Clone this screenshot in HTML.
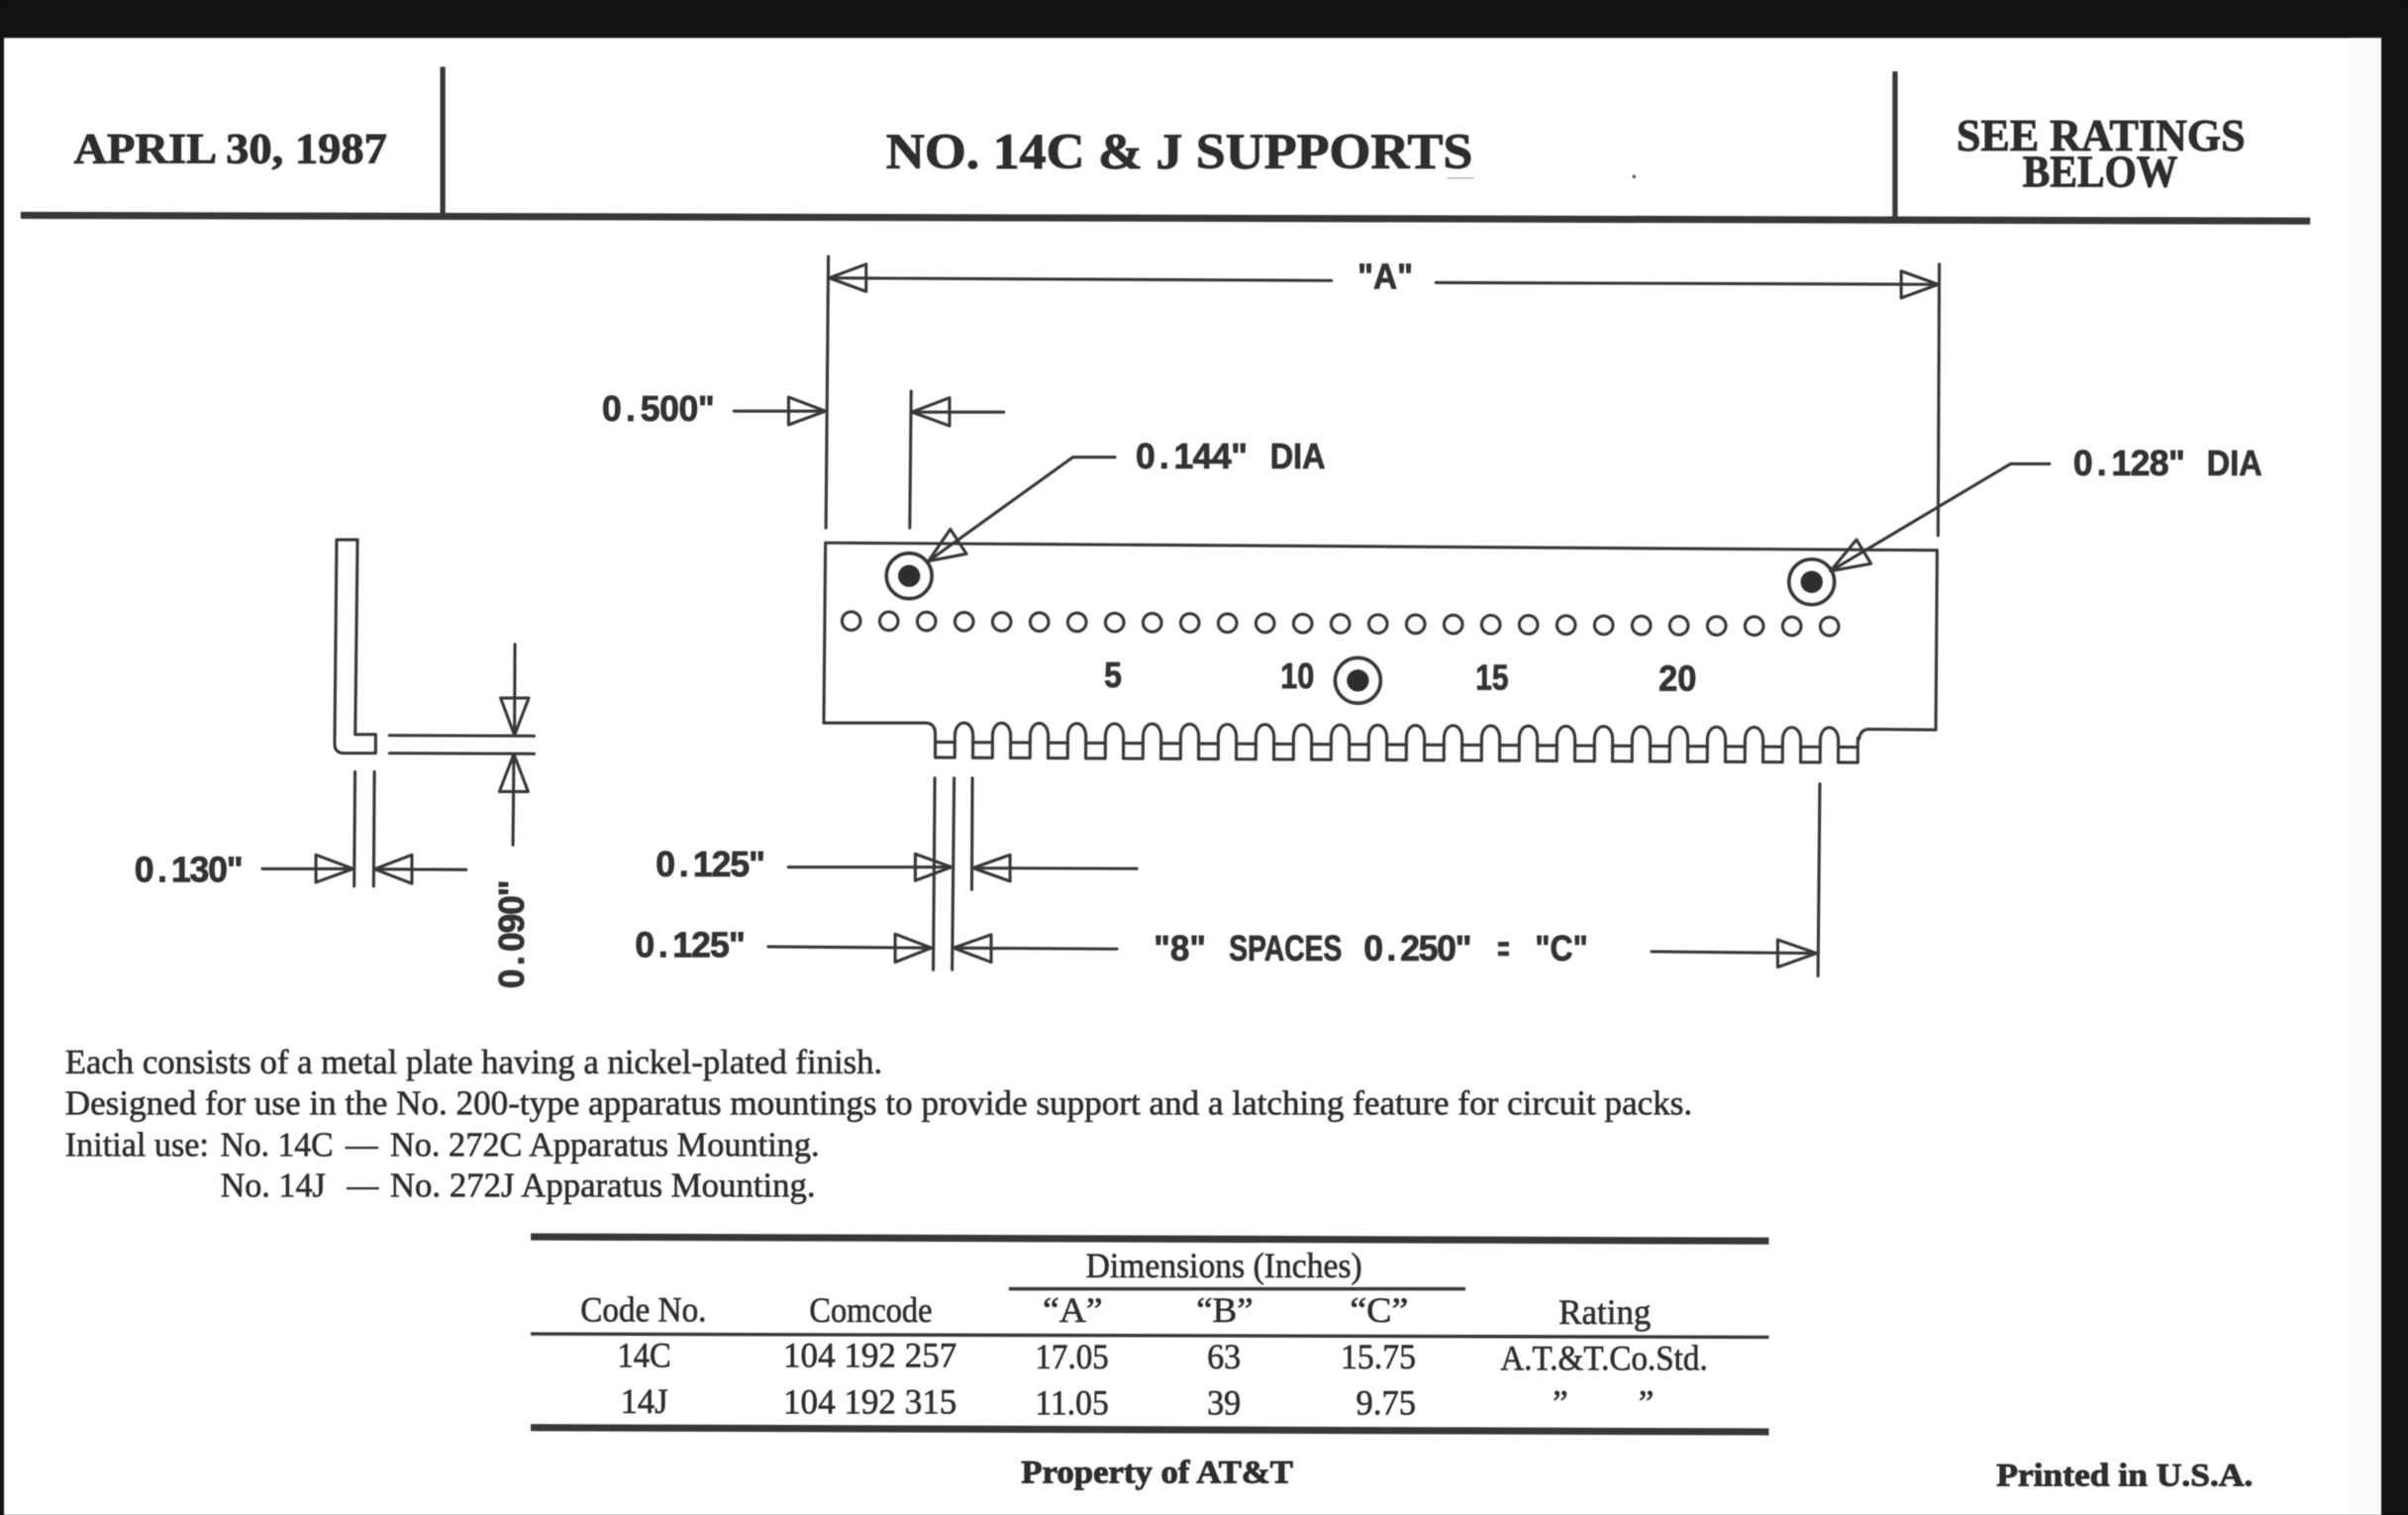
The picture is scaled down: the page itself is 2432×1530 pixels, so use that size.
<!DOCTYPE html>
<html lang="en"><head><meta charset="utf-8"><title>No. 14C &amp; J Supports</title>
<style>
html,body{margin:0;padding:0;background:#111;width:2432px;height:1530px;overflow:hidden}
svg{display:block;filter:blur(.6px)}
.s{font-family:"Liberation Serif",serif;fill:#2e2e2e}
.b{font-weight:bold;stroke:#2e2e2e;stroke-width:.6}
.p{font-size:22.5px;stroke:#2e2e2e;stroke-width:.4}
.t{font-size:23px;stroke:#2e2e2e;stroke-width:.4}
.m{font-family:"Liberation Sans",sans-serif;font-weight:bold;font-size:23px;fill:#333;stroke:#333;stroke-width:.5}
.l{fill:none;stroke:#383838;stroke-width:2;stroke-linecap:round;stroke-linejoin:round}
.k{fill:none;stroke:#383838;stroke-linecap:butt}
</style></head>
<body>
<svg xmlns="http://www.w3.org/2000/svg" width="2432" height="1530" viewBox="0 0 1568 986.45">
<defs>
<g id="tooth">
<path class="l" d="M0,0H12.7V-14C12.7,-25.5 24.5,-25.5 24.5,-14V0"/>
<path class="l" d="M0,-10H12.7"/>
</g>
<circle id="hole" r="6" class="l"/>
</defs>
<rect width="1568" height="987" fill="#121212"/>
<rect x="2.6" y="24.7" width="1548" height="963" fill="#fff"/>
<rect x="1530" y="24.7" width="20.6" height="963" fill="#fcfcfc"/>

<!-- header -->
<path class="k" stroke-width="4.6" d="M13.5,140.2L1504.3,143.9"/>
<path class="k" stroke-width="3.4" d="M288.3,43.5V140M1234,46.5V142"/>
<text class="s b" x="48" y="106" font-size="28" textLength="204" lengthAdjust="spacingAndGlyphs">APRIL 30, 1987</text>
<text class="s b" x="577" y="109.5" font-size="33" textLength="382" lengthAdjust="spacingAndGlyphs">NO. 14C &amp; J SUPPORTS</text>
<text class="s b" x="1274" y="98" font-size="29" textLength="188" lengthAdjust="spacingAndGlyphs">SEE RATINGS</text>
<text class="s b" x="1317" y="121.5" font-size="29" textLength="101" lengthAdjust="spacingAndGlyphs">BELOW</text>
<path d="M942,116H960" stroke="#aaa" stroke-width=".8"/>
<circle cx="1064" cy="115" r="1.2" fill="#666"/>

<!-- A dimension -->
<path class="l" d="M539.4,167L537.8,343.7M1262.8,172L1262,348.6"/>
<path class="l" d="M540,181L867,182.7M935,184L1262,185.2"/>
<path class="l" d="M540,181L564,172V189.8Z"/>
<path class="l" d="M1262,185.2L1238,176.5V194Z"/>
<text class="m" x="884" y="188" textLength="36" lengthAdjust="spacingAndGlyphs">"A"</text>

<!-- 0.500 -->
<text class="m" x="392 407.5 417 429.5 442 454.5" y="274">0.500"</text>
<path class="l" d="M478,267.7H537.5M513.5,258.6L537.5,267.7L513.5,276.6Z"/>
<path class="l" d="M593.3,254.7L592.4,343.7M593.8,268.3H653.6M593.8,268.3L618.3,259V277.3Z"/>

<!-- leaders -->
<text class="m" x="739.5 754.9 764.3 776.7 789.1 801.5" y="305">0.144"</text>
<text class="m" x="827" y="305" textLength="36" lengthAdjust="spacingAndGlyphs">DIA</text>
<path class="l" d="M726,297.7H698.6L604.6,365.3M604.6,365.3L618.8,344.5L629.3,360.6Z"/>
<text class="m" x="1350 1365.4 1374.8 1387.2 1399.6 1412" y="309.5">0.128"</text>
<text class="m" x="1437" y="309.5" textLength="36" lengthAdjust="spacingAndGlyphs">DIA</text>
<path class="l" d="M1334.6,302H1309.2L1192,371.8M1192,371.8L1208.9,351.4L1218.3,367Z"/>

<!-- plate -->
<path class="l" d="M1216.7,474.8Q1211.5,475 1210.6,481"/>
<path class="l" d="M537.5,353.4L1261.4,358.3L1260.5,475.2L1216.7,474.8M537.5,353.4L536.4,470.7H603Q608.5,471 609,477V493.2"/>
<g transform="translate(609,493.2) rotate(0.315)">
<use href="#tooth" x="0"/><use href="#tooth" x="24.5"/><use href="#tooth" x="49"/><use href="#tooth" x="73.5"/><use href="#tooth" x="98"/><use href="#tooth" x="122.5"/><use href="#tooth" x="147"/><use href="#tooth" x="171.5"/><use href="#tooth" x="196"/><use href="#tooth" x="220.5"/><use href="#tooth" x="245"/><use href="#tooth" x="269.5"/><use href="#tooth" x="294"/><use href="#tooth" x="318.5"/><use href="#tooth" x="343"/><use href="#tooth" x="367.5"/><use href="#tooth" x="392"/><use href="#tooth" x="416.5"/><use href="#tooth" x="441"/><use href="#tooth" x="465.5"/><use href="#tooth" x="490"/><use href="#tooth" x="514.5"/><use href="#tooth" x="539"/><use href="#tooth" x="563.5"/>
<path class="l" d="M588,0H600.7V-16M588,-10H600.7"/>
</g>
<g transform="translate(554.3,404.3) rotate(0.32)">
<use href="#hole" x="0"/><use href="#hole" x="24.5"/><use href="#hole" x="49"/><use href="#hole" x="73.5"/><use href="#hole" x="98"/><use href="#hole" x="122.5"/><use href="#hole" x="147"/><use href="#hole" x="171.5"/><use href="#hole" x="196"/><use href="#hole" x="220.5"/><use href="#hole" x="245"/><use href="#hole" x="269.5"/><use href="#hole" x="294"/><use href="#hole" x="318.5"/><use href="#hole" x="343"/><use href="#hole" x="367.5"/><use href="#hole" x="392"/><use href="#hole" x="416.5"/><use href="#hole" x="441"/><use href="#hole" x="465.5"/><use href="#hole" x="490"/><use href="#hole" x="514.5"/><use href="#hole" x="539"/><use href="#hole" x="563.5"/><use href="#hole" x="588"/><use href="#hole" x="612.5"/><use href="#hole" x="637"/>
</g>
<circle class="l" cx="592" cy="375" r="14.8" style="stroke-width:2.3"/><circle cx="592" cy="375" r="7.2" fill="#2e2e2e"/>
<circle class="l" cx="1179.7" cy="378.9" r="14.8" style="stroke-width:2.3"/><circle cx="1179.7" cy="378.9" r="7.2" fill="#2e2e2e"/>
<circle class="l" cx="884.2" cy="443.1" r="14.8" style="stroke-width:2.3"/><circle cx="884.2" cy="443.1" r="7.2" fill="#2e2e2e"/>
<text class="m" x="719" y="447.6" textLength="11.5" lengthAdjust="spacingAndGlyphs">5</text>
<text class="m" x="833.8" y="448" textLength="22" lengthAdjust="spacingAndGlyphs">10</text>
<text class="m" x="960.8" y="449" textLength="21.5" lengthAdjust="spacingAndGlyphs">15</text>
<text class="m" x="1080" y="449.8" textLength="24.7" lengthAdjust="spacingAndGlyphs">20</text>

<!-- L profile -->
<path class="l" d="M219.2,351.4H232.8L231.3,478.2H244.6V490.4H223.5Q218,490 217.9,484.6Z"/>
<path class="l" d="M253.6,478.8L347.8,479.2M253.6,490.4L347.8,490.8"/>
<path class="l" d="M335.3,419.5L335,478.8M335,478.8L326,454.5H344.3Z"/>
<path class="l" d="M334.6,491L334,550.2M334.6,491L325.2,515.4H343.9Z"/>
<text class="m" transform="translate(341,643.7) rotate(-90)" x="0 15 24 36 48 60" y="0">0.090"</text>
<path class="l" d="M231.2,502.5L230.6,577M243.8,502.5L243.3,577"/>
<text class="m" x="87.5 102.5 111.5 123.5 135.5 147.5" y="574.3">0.130"</text>
<path class="l" d="M170.9,565.7H230M230,565.7L205.7,556.6V574.5Z"/>
<path class="l" d="M243.9,565.9L303.5,566.3M243.9,565.9L268.2,556.6V575.3Z"/>

<!-- lower dims -->
<path class="l" d="M608.7,506.6L607.7,631.4M621.3,506.6L620,631.4M633.2,506.6L632.8,579.2"/>
<text class="m" x="427 442.1 451.2 463.3 475.4 487.5" y="570.6">0.125"</text>
<path class="l" d="M513.4,564.6H619.5M619.5,564.6L596,556V573.4Z"/>
<path class="l" d="M633.6,565.2L740.2,565.6M633.6,565.2L657.7,556.6V573.8Z"/>
<text class="m" x="413.5 428.7 437.9 450.1 462.3 474.5" y="623.3">0.125"</text>
<path class="l" d="M500.3,616.4L606.5,617.2M606.5,617.2L582.9,608.2V626.5Z"/>
<path class="l" d="M620.8,617.2L727.3,617.9M620.8,617.2L645.4,608.6V626.5Z"/>
<text class="m" x="751.3" y="625.4" textLength="34" lengthAdjust="spacingAndGlyphs">"8"</text>
<text class="m" x="800.3" y="625.4" textLength="73.5" lengthAdjust="spacingAndGlyphs">SPACES</text>
<text class="m" x="888 902.9 911.8 923.7 935.6 947.5" y="625.4">0.250"</text>
<text class="m" x="975" y="625.4" textLength="8" lengthAdjust="spacingAndGlyphs">=</text>
<text class="m" x="999.6" y="625.4" textLength="34.4" lengthAdjust="spacingAndGlyphs">"C"</text>
<path class="l" d="M1075.5,619.6L1182.9,620.7M1182.9,620.7L1157.6,611.9V629.7Z"/>
<path class="l" d="M1185,510.4L1183.8,635.5"/>

<!-- paragraph -->
<text class="s p" x="42.4" y="699" textLength="532.2" lengthAdjust="spacingAndGlyphs">Each consists of a metal plate having a nickel-plated finish.</text>
<text class="s p" x="42.4" y="725.8" textLength="1059.6" lengthAdjust="spacingAndGlyphs">Designed for use in the No. 200-type apparatus mountings to provide support and a latching feature for circuit packs.</text>
<text class="s p" x="42.4" y="752.6" textLength="93.6" lengthAdjust="spacingAndGlyphs">Initial use:</text>
<text class="s p" x="143.5" y="752.6" textLength="73.5" lengthAdjust="spacingAndGlyphs">No. 14C</text>
<text class="s p" x="225" y="752.6" textLength="21" lengthAdjust="spacingAndGlyphs">—</text>
<text class="s p" x="254" y="752.6" textLength="279.6" lengthAdjust="spacingAndGlyphs">No. 272C Apparatus Mounting.</text>
<text class="s p" x="143.5" y="779.3" textLength="68.5" lengthAdjust="spacingAndGlyphs">No. 14J</text>
<text class="s p" x="226" y="779.3" textLength="20.5" lengthAdjust="spacingAndGlyphs">—</text>
<text class="s p" x="254" y="779.3" textLength="277" lengthAdjust="spacingAndGlyphs">No. 272J Apparatus Mounting.</text>

<!-- table -->
<path class="k" stroke-width="4.6" d="M345.6,805.3L1151.8,808M345.6,929.5L1151.8,932.3"/>
<path class="k" stroke-width="2.2" d="M656.9,839.2H954.2M345.6,868.5L1151.8,870.7"/>
<text class="s t" x="707" y="831.6" textLength="180" lengthAdjust="spacingAndGlyphs">Dimensions (Inches)</text>
<text class="s t" x="378" y="860.3" textLength="82" lengthAdjust="spacingAndGlyphs">Code No.</text>
<text class="s t" x="527" y="860.6" textLength="80" lengthAdjust="spacingAndGlyphs">Comcode</text>
<text class="s t" x="679" y="860.7" textLength="39" lengthAdjust="spacingAndGlyphs">“A”</text>
<text class="s t" x="779" y="860.7" textLength="37" lengthAdjust="spacingAndGlyphs">“B”</text>
<text class="s t" x="879" y="860.7" textLength="38" lengthAdjust="spacingAndGlyphs">“C”</text>
<text class="s t" x="1015" y="862" textLength="60" lengthAdjust="spacingAndGlyphs">Rating</text>
<text class="s t" x="402" y="890.2" textLength="35" lengthAdjust="spacingAndGlyphs">14C</text>
<text class="s t" x="510" y="890" textLength="113" lengthAdjust="spacingAndGlyphs">104 192 257</text>
<text class="s t" x="674" y="891" textLength="48" lengthAdjust="spacingAndGlyphs">17.05</text>
<text class="s t" x="786" y="891" textLength="22" lengthAdjust="spacingAndGlyphs">63</text>
<text class="s t" x="873" y="891" textLength="49" lengthAdjust="spacingAndGlyphs">15.75</text>
<text class="s t" x="977" y="892" textLength="135" lengthAdjust="spacingAndGlyphs">A.T.&amp;T.Co.Std.</text>
<text class="s t" x="404" y="920.2" textLength="31" lengthAdjust="spacingAndGlyphs">14J</text>
<text class="s t" x="510" y="920.4" textLength="113" lengthAdjust="spacingAndGlyphs">104 192 315</text>
<text class="s t" x="674" y="921" textLength="48" lengthAdjust="spacingAndGlyphs">11.05</text>
<text class="s t" x="786" y="921" textLength="22" lengthAdjust="spacingAndGlyphs">39</text>
<text class="s t" x="883" y="921" textLength="39" lengthAdjust="spacingAndGlyphs">9.75</text>
<text class="s t" x="1011" y="921" textLength="10" lengthAdjust="spacingAndGlyphs">”</text>
<text class="s t" x="1067" y="921" textLength="10" lengthAdjust="spacingAndGlyphs">”</text>

<text class="s b" x="665" y="965.5" font-size="21" textLength="177" lengthAdjust="spacingAndGlyphs">Property of AT&amp;T</text>
<text class="s b" x="1300" y="967.5" font-size="21" textLength="167" lengthAdjust="spacingAndGlyphs">Printed in U.S.A.</text>
</svg>
</body></html>
